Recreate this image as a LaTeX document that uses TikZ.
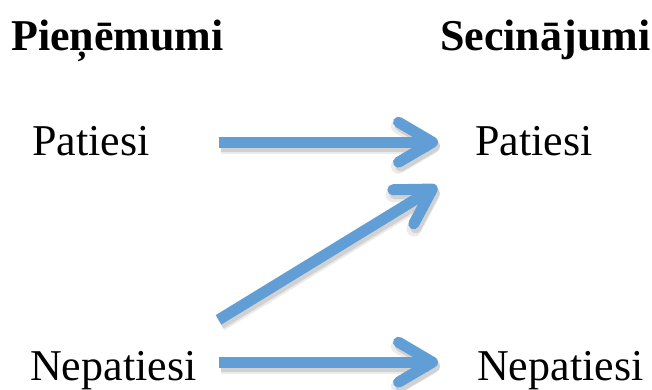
\documentclass[tikz,border=0pt]{standalone}
\usepackage{fontspec}
\setmainfont{Liberation Serif}
\usetikzlibrary{arrows.meta,positioning}
\definecolor{arrowblue}{RGB}{98,158,214}
\definecolor{shadowgray}{RGB}{90,90,90}

\begin{document}
\begin{tikzpicture}[x=1pt, y=-1pt,
  label/.style={inner sep=0pt, anchor=base west, text height=30pt, text depth=0pt,
                font=\fontsize{44}{50}\selectfont},
  header/.style={label, font=\fontsize{44}{50}\selectfont\bfseries},
  arr/.style={line width=11pt, arrowblue,
              -{Straight Barb[round, length=34pt, width=40pt]},
              preaction={draw=shadowgray, opacity=0.12, line width=15pt,
                         transform canvas={shift={(2pt,-4pt)}}},
              preaction={draw=shadowgray, opacity=0.18, line width=11pt,
                         transform canvas={shift={(2pt,-4pt)}}}},
  ]

\useasboundingbox (0,0) rectangle (652,389);

% ======================================================================
% Headers
% ======================================================================
\node[header] (hdrLeft)  at (11,50)  {Pieņēmumi};
\node[header] (hdrRight) at (440,50) {Secinājumi};

% ======================================================================
% Truth values
% ======================================================================
\node[label] (tLeft)  at (32,155)  {Patiesi};
\node[label] (fLeft)  at (30,380)  {Nepatiesi};
\node[label] (tRight) at (475,155) {Patiesi};
\node[label] (fRight) at (477,380) {Nepatiesi};

% ======================================================================
% Arrows
% ======================================================================
\draw[arr] ([xshift=69pt, yshift=13pt]tLeft.south east)
        -- ([xshift=-37pt, yshift=13pt]tRight.south west);
\draw[arr] ([xshift=22pt, yshift=30pt]fLeft.north east)
        -- ([xshift=-38pt, yshift=-31pt]tRight.south west);
\draw[arr] ([xshift=22pt, yshift=18pt]fLeft.south east)
        -- ([xshift=-39pt, yshift=18pt]fRight.south west);

\end{tikzpicture}
\end{document}
